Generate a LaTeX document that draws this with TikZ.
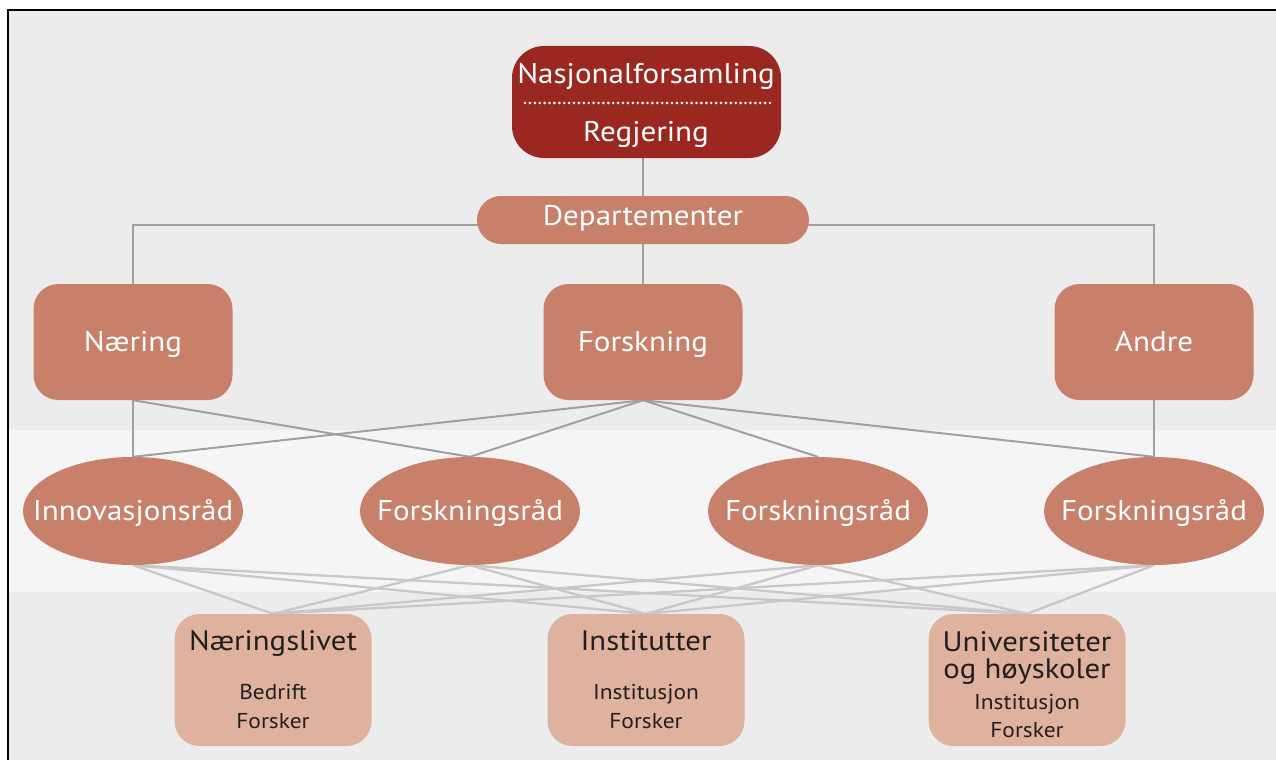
\documentclass[tikz,border=0pt]{standalone}
\usepackage{fontspec}
\setmainfont[FakeStretch=1.09]{PT Sans}
\usetikzlibrary{shapes.geometric}
\definecolor{bgA}{HTML}{ECECEC}
\definecolor{bgB}{HTML}{F5F5F5}
\definecolor{dred}{HTML}{9B2820}
\definecolor{mid}{HTML}{C8806A}
\definecolor{lite}{HTML}{DFB29F}
\definecolor{lnA}{HTML}{A0A0A0}
\definecolor{lnB}{HTML}{C8C8C8}
\definecolor{ink}{HTML}{231F20}
\pgfdeclarelayer{bg}
\pgfdeclarelayer{lines}
\pgfsetlayers{bg,lines,main}
\tikzset{
  x=1pt, y=-1pt,
  midbox/.style={fill=mid, draw=none, rounded corners=25pt, minimum width=199pt, minimum height=116pt, inner sep=0pt},
  ellbox/.style={ellipse, fill=mid, draw=none, minimum width=220pt, minimum height=108pt, inner sep=0pt},
  lowbox/.style={fill=lite, draw=none, rounded corners=25pt, minimum width=197pt, minimum height=132pt, inner sep=0pt},
  whitetxt/.style={text=white, font=\fontsize{28.5}{28.5}\selectfont, inner sep=0pt, anchor=base},
  lowhead/.style={text=ink, font=\fontsize{28.2}{28.2}\selectfont, inner sep=0pt, anchor=base, text height=19pt, text depth=6pt},
  lowsub/.style={text=ink, font=\fontsize{21.5}{21.5}\selectfont, inner sep=0pt, anchor=base},
  upline/.style={draw=lnA, line width=2pt},
  lowline/.style={draw=lnB, line width=2.3pt},
}
\begin{document}
\begin{tikzpicture}
\useasboundingbox (0,0) rectangle (1276,760);
\begin{pgfonlayer}{bg}
  \fill[white] (0,0) rectangle (1276,760);
  \fill[bgA] (8,10) rectangle (1276,760);
  \fill[bgB] (8,430) rectangle (1276,592);
  \draw[black, line width=2.6pt] (8,760) -- (8,10) -- (1276,10);
\end{pgfonlayer}

% top box
\node[fill=dred, rounded corners=32pt, minimum width=269pt, minimum height=112pt, inner sep=0pt] (top) at (646.5,102) {};
\node[whitetxt] (nasj) at (646,83.5) {Nasjonalforsamling};
\node[whitetxt] (regj) at (646,141.5) {Regjering};
\coordinate (dotL) at (525,103);
\coordinate (dotR) at (770,103);
\draw[white, line width=2.9pt, line cap=round, dash pattern=on 0pt off 4.9pt] (dotL) -- (dotR);

\node[fill=mid, rounded corners=24pt, minimum width=332pt, minimum height=48pt, inner sep=0pt] (dep) at (643,220) {};
\node[whitetxt] (deptxt) at (643,225.5) {Departementer};

\node[midbox] (naer) at (133,342) {};
\node[midbox] (forsk) at (643,342) {};
\node[midbox] (andre) at (1154,342) {};
\node[whitetxt] (naert) at (133,351.5) {Næring};
\node[whitetxt] (forskt) at (643,351.5) {Forskning};
\node[whitetxt] (andret) at (1154,351.5) {Andre};

\node[ellbox] (e1) at (133,511) {};
\node[ellbox] (e2) at (470,511) {};
\node[ellbox] (e3) at (818,511) {};
\node[ellbox] (e4) at (1154,511) {};
\node[whitetxt] (e1t) at (133,520) {Innovasjonsråd};
\node[whitetxt] (e2t) at (470,520) {Forskningsråd};
\node[whitetxt] (e3t) at (818,520) {Forskningsråd};
\node[whitetxt] (e4t) at (1154,520) {Forskningsråd};

\node[lowbox] (b1) at (273,680) {};
\node[lowbox] (b2) at (646,680) {};
\node[lowbox] (b3) at (1027,680) {};

\node[lowhead] (b1h) at (273,650) {Næringslivet};
\node[lowsub] (b1s) at (273,699) {Bedrift};
\node[lowsub] (b1f) at (273,728) {Forsker};
\node[lowhead] (b2h) at (646,650) {Institutter};
\node[lowsub] (b2s) at (646,699) {Institusjon};
\node[lowsub] (b2f) at (646,728) {Forsker};
\node[lowhead] (b3h) at (1027,651) {Universiteter};
\node[lowhead] (b3o) at (1027,678) {og høyskoler};
\node[lowsub] (b3s) at (1027,709) {Institusjon};
\node[lowsub] (b3f) at (1027,737) {Forsker};

\begin{pgfonlayer}{lines}
  \draw[upline] (top.south -| dep.north) -- (dep.north);
  \draw[upline] (dep.south) -- (forsk.north);
  \draw[upline] (naer.north) -- ++(0,-59) -| (andre.north);
  \draw[upline] (naer.south) -- (e1.north);
  \draw[upline] (naer.south) -- (e2.north);
  \draw[upline] (andre.south) -- (e4.north);
  \foreach \e in {e1,e2,e3,e4} \draw[upline] (forsk.south) -- (\e.north);
  \foreach \e in {e1,e2,e3,e4}
    \foreach \b in {b1,b2,b3}
      \draw[lowline] (\e.south) -- (\b.north);
\end{pgfonlayer}
\end{tikzpicture}
\end{document}
